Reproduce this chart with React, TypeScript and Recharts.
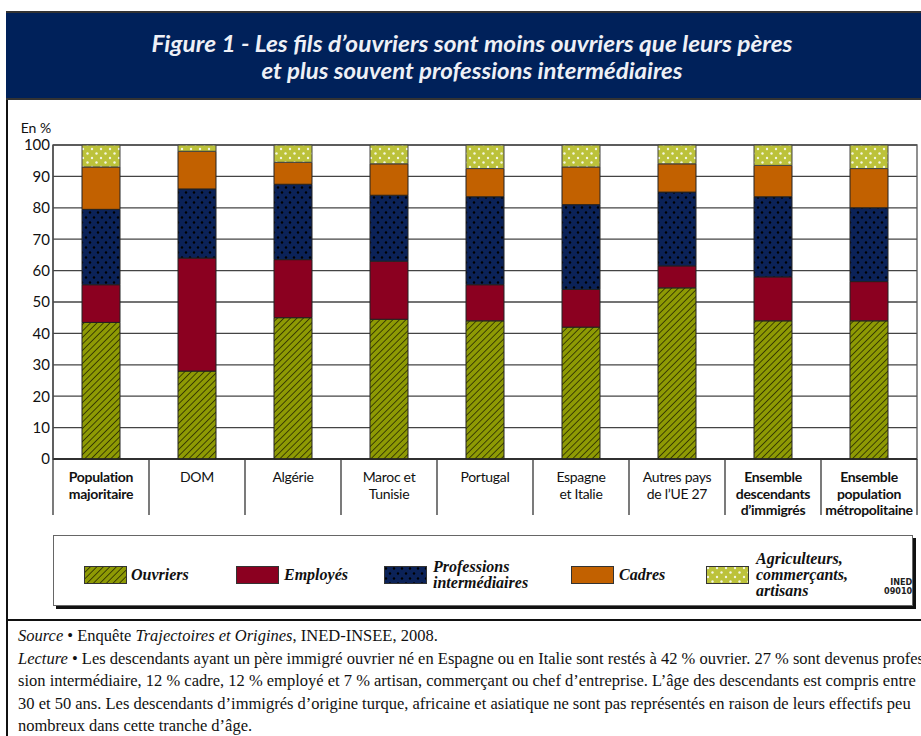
import { BarChart, Bar, XAxis, YAxis, CartesianGrid, ReferenceArea } from 'recharts';

const categories = [
  'Population majoritaire', 'DOM', 'Algérie', 'Maroc et Tunisie', 'Portugal',
  'Espagne et Italie', 'Autres pays de l’UE 27', 'Ensemble descendants d’immigrés',
  'Ensemble population métropolitaine',
];
const categoryLines = [
  ['Population', 'majoritaire'], ['DOM'], ['Algérie'], ['Maroc et', 'Tunisie'], ['Portugal'],
  ['Espagne', 'et Italie'], ['Autres pays', 'de l’UE 27'], ['Ensemble', 'descendants', 'd’immigrés'],
  ['Ensemble', 'population', 'métropolitaine'],
];
const boldCategories = [true, false, false, false, false, false, false, true, true];

const ouvriers = [43.5, 28, 45, 44.5, 44, 42, 54.5, 44, 44];
const employes = [12, 36, 18.5, 18.5, 11.5, 12, 7, 14, 12.5];
const professions = [24, 22, 24, 21, 28, 27, 23.5, 25.5, 23.5];
const cadres = [13.5, 12, 7, 10, 9, 12, 9, 10, 12.5];
const agriculteurs = [7, 2, 5.5, 6, 7.5, 7, 6, 6.5, 7.5];

const yTicks = [0, 10, 20, 30, 40, 50, 60, 70, 80, 90, 100];

const data = categories.map((name, i) => ({
  name,
  ouvriers: ouvriers[i],
  employes: employes[i],
  professions: professions[i],
  cadres: cadres[i],
  agriculteurs: agriculteurs[i],
}));

const SANS = 'Lato, "Open Sans", sans-serif';
const SERIF = '"Liberation Serif", "DejaVu Serif", serif';

function Patterns() {
  return (
    <svg width={0} height={0} style={{ position: 'absolute' }}>
      <defs>
        <pattern id="pOuvriers" patternUnits="userSpaceOnUse" width="4.6" height="4.6" patternTransform="rotate(45)">
          <rect width="4.6" height="4.6" fill="#8e9a04" />
          <line x1="0" y1="0" x2="0" y2="4.6" stroke="#1a1a00" strokeWidth="1.4" />
        </pattern>
        <pattern id="pProfessions" patternUnits="userSpaceOnUse" width="8" height="10">
          <rect width="8" height="10" fill="#0b2258" />
          <circle cx="2" cy="2.5" r="1.2" fill="#000" />
          <circle cx="6" cy="7.5" r="1.2" fill="#000" />
        </pattern>
        <pattern id="pAgri" patternUnits="userSpaceOnUse" width="9" height="9">
          <rect width="9" height="9" fill="#bcc23a" />
          <circle cx="2" cy="2" r="1.2" fill="#f4f6e0" />
          <circle cx="6.5" cy="6.5" r="1.2" fill="#f4f6e0" />
        </pattern>
      </defs>
    </svg>
  );
}

function CategoryTick(props: any) {
  const { x, y, payload, index } = props;
  const half = payload && payload.offset ? payload.offset : 48;
  const lines = categoryLines[index] || [];
  const bold = boldCategories[index];
  return (
    <g>
      <line x1={x - half} y1={y} x2={x - half} y2={y + 56} stroke="#333" strokeWidth={1.3} />
      {index === categories.length - 1 && (
        <line x1={x + half} y1={y} x2={x + half} y2={y + 56} stroke="#333" strokeWidth={1.3} />
      )}
      {lines.map((l, i) => (
        <text key={i} x={x} y={y + 23 + i * 16.5} textAnchor="middle" fontFamily={SANS}
          fontSize={14} fontWeight={bold ? 700 : 400} fill="#111" letterSpacing={-0.3}>
          {l}
        </text>
      ))}
    </g>
  );
}

function Swatch({ fill, left }: { fill: string; left: number }) {
  return (
    <svg width={43} height={18} style={{ position: 'absolute', left, top: 566 }}>
      <rect x={0.5} y={0.5} width={42} height={17} fill={fill} stroke="#333" strokeWidth={1} />
    </svg>
  );
}

const legendText: React.CSSProperties = {
  position: 'absolute',
  fontFamily: SERIF,
  fontStyle: 'italic',
  fontWeight: 700,
  fontSize: 16,
  lineHeight: '16px',
  color: '#111',
};

export default function App() {
  return (
    <div style={{ position: 'absolute', left: 0, top: 0, width: 921, height: 736, background: '#fff', overflow: 'hidden' }}>
      <Patterns />
      {/* cadre gauche */}
      <div style={{ position: 'absolute', left: 6, top: 11, width: 2, height: 730, background: '#111' }} />
      {/* bandeau titre */}
      <div style={{ position: 'absolute', left: 6, top: 11, width: 940, height: 85, background: '#00215a', borderTop: '2px solid #333', borderBottom: '2px solid #333' }} />
      <svg width={921} height={100} style={{ position: 'absolute', left: 0, top: 0 }}>
        <text x={472} y={52} textAnchor="middle" textLength={641} lengthAdjust="spacingAndGlyphs"
          fontFamily={SANS} fontStyle="italic" fontWeight={700} fontSize={22} fill="#eef0f6">
          Figure 1 - Les fils d’ouvriers sont moins ouvriers que leurs pères
        </text>
        <text x={472} y={79} textAnchor="middle" textLength={421} lengthAdjust="spacingAndGlyphs"
          fontFamily={SANS} fontStyle="italic" fontWeight={700} fontSize={22} fill="#eef0f6">
          et plus souvent professions intermédiaires
        </text>
      </svg>

      {/* graphique */}
      <div style={{ position: 'absolute', left: 0, top: 120 }}>
        <BarChart width={921} height={408} data={data} margin={{ top: 25, right: 4, bottom: 12, left: 13 }} barSize={38}>
          <CartesianGrid vertical={false} stroke="#444" strokeWidth={1.3} />
          <ReferenceArea y1={0} y2={100} fill="none" stroke="#555" strokeWidth={1.3} ifOverflow="visible" />
          <XAxis dataKey="name" interval={0} tickLine={false} tickSize={0} tickMargin={0}
            axisLine={{ stroke: '#222', strokeWidth: 1.5 }} height={57} tick={<CategoryTick />} />
          <YAxis type="number" domain={[0, 100]} ticks={yTicks} width={40} tickLine={false} tickSize={0} tickMargin={3}
            axisLine={{ stroke: '#444', strokeWidth: 1.3 }}
            tick={{ fontFamily: SANS, fontSize: 15, fill: '#111' }}
            label={{ value: 'En %', position: 'top', offset: 12, dx: 3, style: { fontFamily: SANS, fontSize: 14, fill: '#111' } }} />
          <Bar dataKey="ouvriers" stackId="a" fill="url(#pOuvriers)" stroke="#222" strokeWidth={1} isAnimationActive={false} />
          <Bar dataKey="employes" stackId="a" fill="#8b0020" stroke="#222" strokeWidth={1} isAnimationActive={false} />
          <Bar dataKey="professions" stackId="a" fill="url(#pProfessions)" stroke="#222" strokeWidth={1} isAnimationActive={false} />
          <Bar dataKey="cadres" stackId="a" fill="#c26100" stroke="#222" strokeWidth={1} isAnimationActive={false} />
          <Bar dataKey="agriculteurs" stackId="a" fill="url(#pAgri)" stroke="#444" strokeWidth={1} isAnimationActive={false} />
        </BarChart>
      </div>

      {/* légende */}
      <div style={{ position: 'absolute', left: 53, top: 535, width: 858, height: 69, border: '1.5px solid #666', background: '#fff', boxShadow: '3px 3px 0 #111' }} />
      <Swatch fill="url(#pOuvriers)" left={84} />
      <div style={{ ...legendText, left: 131, top: 567 }}>Ouvriers</div>
      <Swatch fill="#8b0020" left={236} />
      <div style={{ ...legendText, left: 284, top: 567 }}>Employés</div>
      <Swatch fill="url(#pProfessions)" left={384} />
      <div style={{ ...legendText, left: 433, top: 559 }}>Professions<br />intermédiaires</div>
      <Swatch fill="#c26100" left={571} />
      <div style={{ ...legendText, left: 619, top: 567 }}>Cadres</div>
      <Swatch fill="url(#pAgri)" left={706} />
      <div style={{ ...legendText, left: 756, top: 551 }}>Agriculteurs,<br />commerçants,<br />artisans</div>
      <div style={{ position: 'absolute', left: 884, top: 578, fontFamily: '"DejaVu Sans Condensed", "Liberation Sans", sans-serif', fontSize: 9, lineHeight: '9px', fontWeight: 700, textAlign: 'right', color: '#222' }}>INED<br />09010</div>

      {/* séparateur */}
      <div style={{ position: 'absolute', left: 6, top: 619, width: 920, height: 2, background: '#111' }} />

      {/* source et lecture */}
      <div style={{ position: 'absolute', left: 18, top: 625, fontFamily: SERIF, fontSize: 16.5, lineHeight: '22.6px', color: '#111', whiteSpace: 'nowrap' }}>
        <div><i>Source</i> • Enquête <i>Trajectoires et Origines</i>, INED-INSEE, 2008.</div>
        <div><i>Lecture</i> • Les descendants ayant un père immigré ouvrier né en Espagne ou en Italie sont restés à 42 % ouvrier. 27 % sont devenus profes-</div>
        <div>sion intermédiaire, 12 % cadre, 12 % employé et 7 % artisan, commerçant ou chef d’entreprise. L’âge des descendants est compris entre</div>
        <div>30 et 50 ans. Les descendants d’immigrés d’origine turque, africaine et asiatique ne sont pas représentés en raison de leurs effectifs peu</div>
        <div>nombreux dans cette tranche d’âge.</div>
      </div>
    </div>
  );
}
